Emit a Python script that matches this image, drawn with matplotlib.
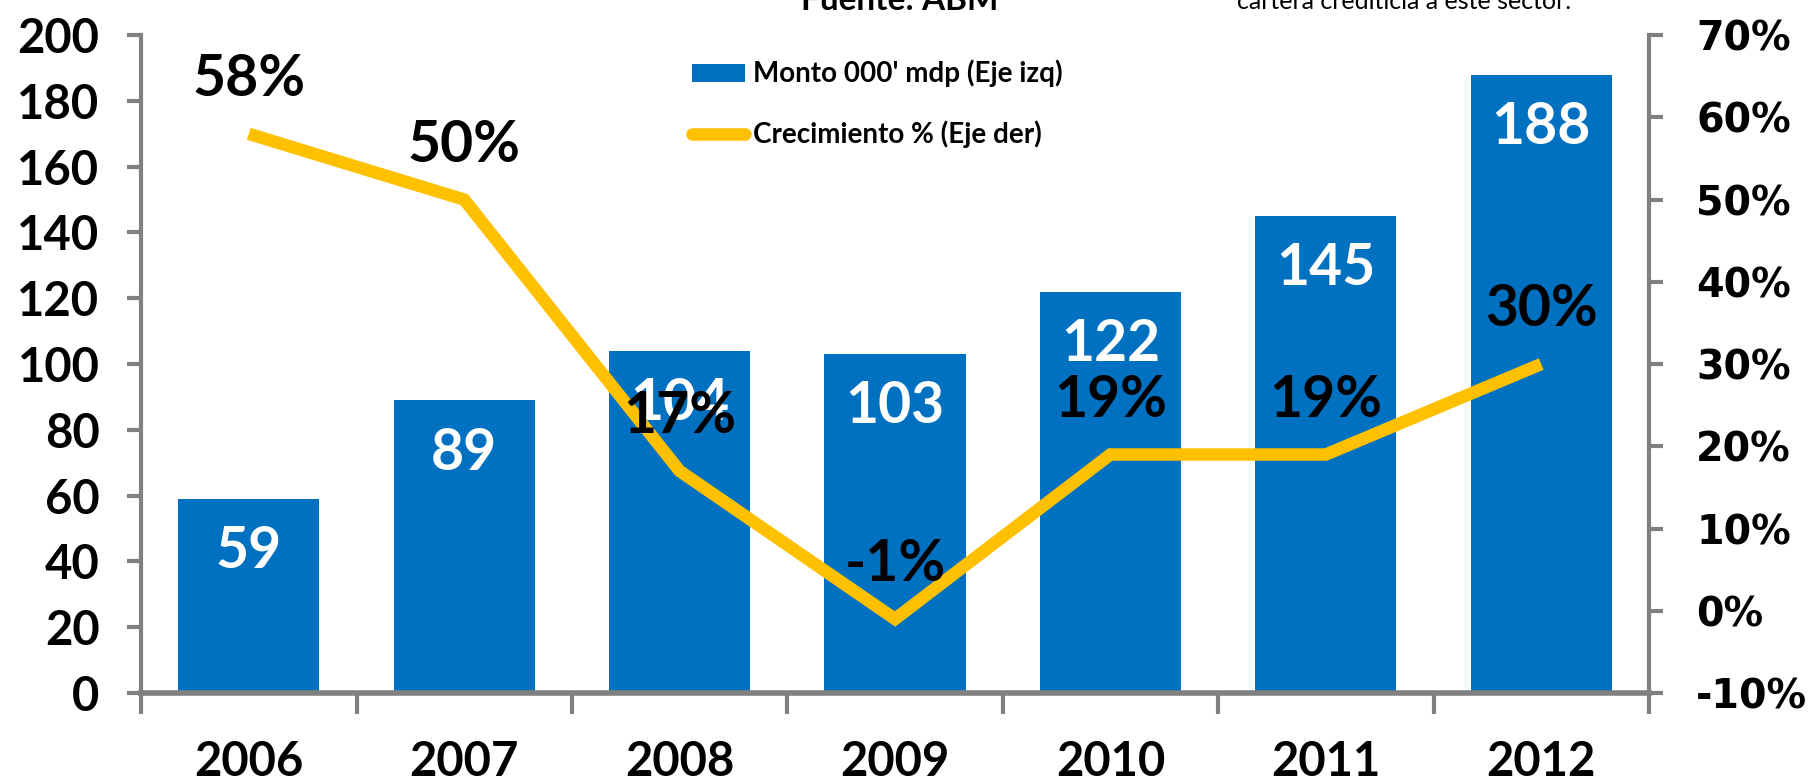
import matplotlib
matplotlib.use("Agg")
import matplotlib.pyplot as plt
import numpy as np

plt.rcParams['font.family'] = ['Lato', 'DejaVu Sans']

# data
years = ['2006', '2007', '2008', '2009', '2010', '2011', '2012']
monto = [59, 89, 104, 103, 122, 145, 188]          # Monto 000' mdp (left axis)
crecimiento = [58, 50, 17, -1, 19, 19, 30]          # Crecimiento % (right axis)
left_ticks = list(range(0, 201, 20))
right_ticks = list(range(-10, 71, 10))

blue = '#0070C0'
gold = '#FFC000'
gray = '#808080'

fig = plt.figure(figsize=(18.09, 7.81), dpi=100)
ax = fig.add_axes([0.078, 0.1127, 0.9115 - 0.078, 0.955 - 0.1127])
ax2 = ax.twinx()

x = np.arange(len(years))
bars = ax.bar(x, monto, width=0.656, color=blue, label="Monto 000' mdp (Eje izq)", zorder=2)
for xi, v in zip(x, monto):
    ax.annotate(str(v), (xi, v), xytext=(0, -38), textcoords='offset points',
                ha='center', va='center', color='white', fontsize=41, weight='bold')

line, = ax2.plot(x, crecimiento, color=gold, lw=9, solid_joinstyle='miter',
                 solid_capstyle='butt', label='Crecimiento % (Eje der)')
for xi, v in zip(x, crecimiento):
    ax2.annotate(f"{v}%", (xi, v), xytext=(0, 39), textcoords='offset points',
                 ha='center', va='center', color='black', fontsize=41, weight='bold')

ax.set_xlim(-0.5, 6.5)
ax.set_ylim(0, 200)
ax2.set_ylim(-10, 70)
ax.set_yticks(left_ticks)
ax.set_yticklabels([str(t) for t in left_ticks], fontsize=34, weight='bold')
ax2.set_yticks(right_ticks)
ax2.set_yticklabels([f"{t}%" for t in right_ticks], fontsize=28.5, weight='bold',
                    family='DejaVu Sans')

ax.set_xticks(x)
ax.set_xticklabels(years, fontsize=34, weight='bold')
ax.set_xticks(np.arange(-0.5, 7, 1), minor=True)
ax.tick_params(axis='x', which='major', length=0, pad=34)
ax.tick_params(axis='x', which='minor', length=15, width=3, color=gray, direction='out')
ax.tick_params(axis='y', length=10, width=3, color=gray, direction='out', pad=20)
ax2.tick_params(axis='y', length=10, width=3, color=gray, direction='out', pad=24)

for s in ['top', 'right']:
    ax.spines[s].set_visible(False)
for s in ['top', 'left', 'bottom']:
    ax2.spines[s].set_visible(False)
ax.spines['left'].set_color(gray)
ax.spines['left'].set_linewidth(3)
ax.spines['bottom'].set_color(gray)
ax.spines['bottom'].set_linewidth(4)
ax2.spines['right'].set_color(gray)
ax2.spines['right'].set_linewidth(3)

leg = ax.legend([bars, line], [bars.get_label(), line.get_label()],
                loc='upper left', bbox_to_anchor=(678 / 1809, 1 - 46 / 781),
                bbox_transform=fig.transFigure, frameon=False,
                prop={'weight': 'bold', 'size': 20}, labelspacing=1.2,
                handlelength=1.9, handleheight=0.6, handletextpad=0.3, borderpad=0)
leg.get_lines()[0].set_solid_capstyle('round')

# cut-off texts at the top edge
fig.text(900 / 1809, 1.0, 'Fuente: ABM', ha='center', va='center',
         fontsize=24, weight='bold')
fig.text(1237 / 1809, 1 - 9 / 781, 'cartera crediticia a este sector.',
         ha='left', va='baseline', fontsize=18)

fig.savefig('out.png', dpi=100)
